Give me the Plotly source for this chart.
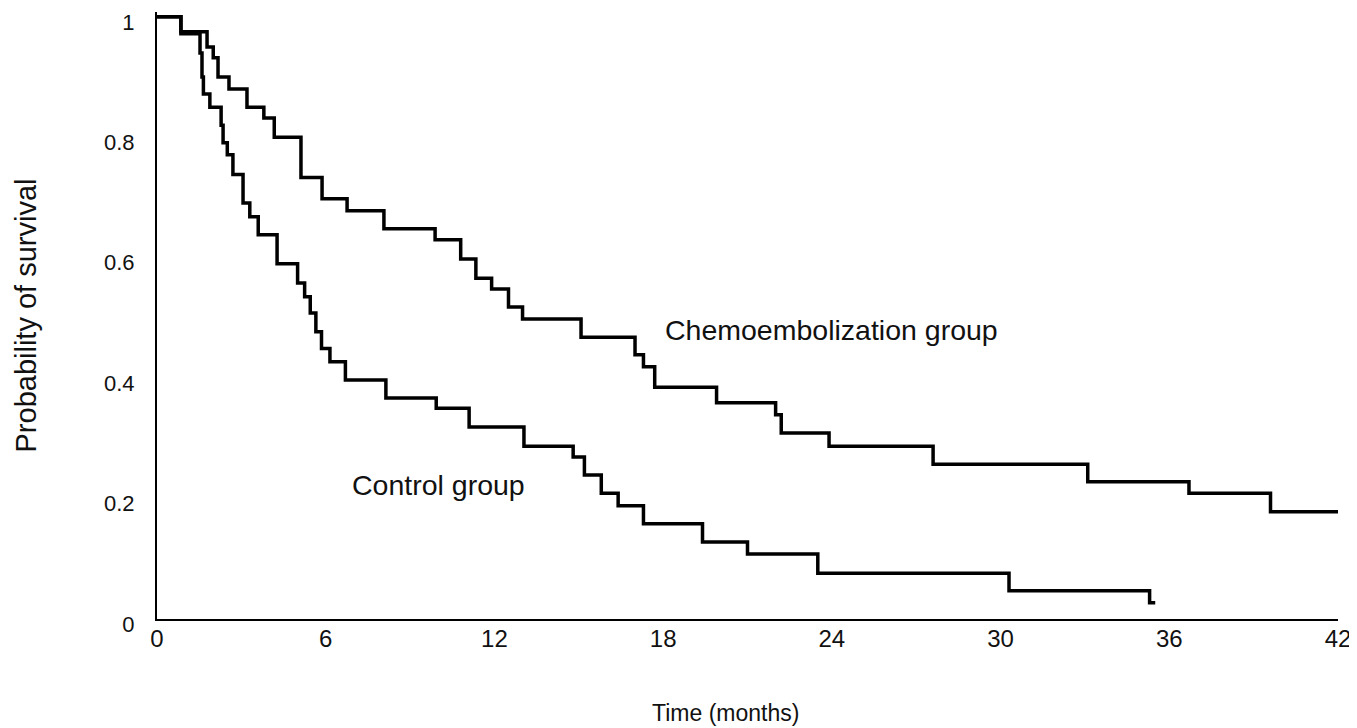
import plotly.graph_objects as go

# Kaplan-Meier step data (time in months, probability of survival)
chemo_time = [0, 0.85, 1.78, 2.0, 2.17, 2.56, 3.2, 3.8, 4.17, 5.12, 5.87, 6.76, 8.07, 9.89,
              10.8, 11.34, 11.9, 12.5, 13.0, 15.08, 17.0, 17.3, 17.7, 19.9, 22.0, 22.2,
              23.9, 27.6, 33.1, 36.7, 39.6, 42.0]
chemo_surv = [1.0, 0.975, 0.950, 0.932, 0.900, 0.880, 0.850, 0.832, 0.800, 0.733, 0.698,
              0.678, 0.648, 0.630, 0.598, 0.566, 0.548, 0.518, 0.498, 0.468, 0.439, 0.419,
              0.385, 0.359, 0.339, 0.309, 0.287, 0.257, 0.228, 0.209, 0.178, 0.178]

control_time = [0, 0.85, 1.53, 1.6, 1.65, 1.88, 2.28, 2.35, 2.5, 2.7, 3.06, 3.3, 3.6, 4.27,
                5.0, 5.25, 5.45, 5.65, 5.85, 6.15, 6.7, 8.14, 9.93, 11.1, 13.05, 14.8, 15.2,
                15.8, 16.4, 17.3, 19.4, 21.0, 23.5, 30.3, 35.3, 35.5]
control_surv = [1.0, 0.972, 0.94, 0.90, 0.872, 0.850, 0.82, 0.791, 0.771, 0.738, 0.691,
                0.668, 0.638, 0.590, 0.558, 0.535, 0.508, 0.477, 0.449, 0.427, 0.397, 0.367,
                0.350, 0.319, 0.287, 0.269, 0.239, 0.209, 0.188, 0.158, 0.128, 0.108, 0.076,
                0.047, 0.027, 0.027]

x_ticks = [0, 6, 12, 18, 24, 30, 36, 42]
y_ticks = [0, 0.2, 0.4, 0.6, 0.8, 1]
y_tick_text = ["0", "0.2", "0.4", "0.6", "0.8", "1"]

labels = ["Chemoembolization group", "Control group"]
label_x = [23.97, 10.0]
label_y = [0.48, 0.223]

x_title = "Time (months)"
y_title = "Probability of survival"

FONT = "Liberation Sans, Arial, sans-serif"

fig = go.Figure()
fig.add_trace(go.Scatter(x=chemo_time, y=chemo_surv, mode="lines", line_shape="hv",
                         line=dict(color="black", width=3.5), name=labels[0], showlegend=False))
fig.add_trace(go.Scatter(x=control_time, y=control_surv, mode="lines", line_shape="hv",
                         line=dict(color="black", width=3.5), name=labels[1], showlegend=False))

for txt, lx, ly in zip(labels, label_x, label_y):
    fig.add_annotation(x=lx, y=ly, text=txt, showarrow=False,
                       font=dict(family=FONT, size=28.5, color="#111"))

# x-axis title, placed slightly left of centre as in the reference
fig.add_annotation(x=0.481, y=-0.155, xref="paper", yref="paper", text=x_title,
                   showarrow=False, xanchor="center", yanchor="middle",
                   font=dict(family=FONT, size=23, color="#111"))

# the page body adds an 8px offset; figure is sized so the plot lands where the reference has it
fig.update_layout(
    width=1349, height=720,
    margin=dict(l=149, r=19, t=4, b=109, autoexpand=False),
    paper_bgcolor="white", plot_bgcolor="white",
    font=dict(family=FONT, color="#111"),
)
fig.update_xaxes(range=[0, 42], tickvals=x_ticks, showgrid=False, zeroline=False,
                 showline=True, linecolor="black", linewidth=2, ticks="", automargin=False,
                 ticklabelstandoff=-3, tickfont=dict(size=24), ticklabeloverflow="allow")
fig.update_yaxes(range=[0, 1.008], tickvals=y_ticks, ticktext=y_tick_text, showgrid=False,
                 zeroline=False, showline=True, linecolor="black", linewidth=2, ticks="",
                 automargin=False, ticklabelstandoff=16, ticklabelshift=5,
                 tickfont=dict(size=22), ticklabeloverflow="allow",
                 title=dict(text=y_title, font=dict(size=29), standoff=59))

fig.write_html("out.html")
